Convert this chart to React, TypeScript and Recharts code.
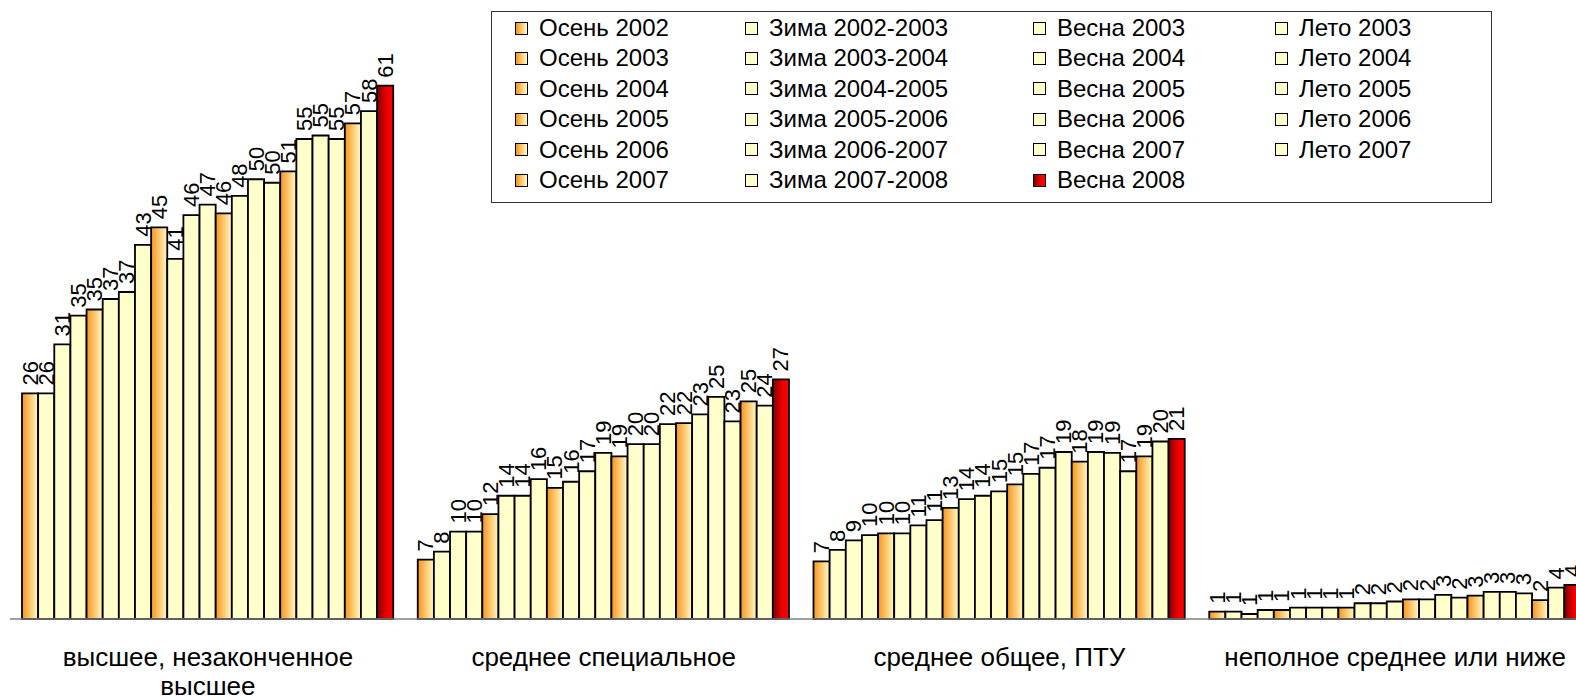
import { BarChart, Bar, XAxis, YAxis, LabelList } from "recharts";

const categories = [
  "высшее, незаконченное высшее",
  "среднее специальное",
  "среднее общее, ПТУ",
  "неполное среднее или ниже",
];

const seasons = [
  "Осень 2002", "Зима 2002-2003", "Весна 2003", "Лето 2003",
  "Осень 2003", "Зима 2003-2004", "Весна 2004", "Лето 2004",
  "Осень 2004", "Зима 2004-2005", "Весна 2005", "Лето 2005",
  "Осень 2005", "Зима 2005-2006", "Весна 2006", "Лето 2006",
  "Осень 2006", "Зима 2006-2007", "Весна 2007", "Лето 2007",
  "Осень 2007", "Зима 2007-2008", "Весна 2008",
];

// one value per season, in season order
const higherEd = [25.8, 25.8, 31.4, 34.7, 35.4, 36.6, 37.4, 42.8, 44.8, 41.2, 46.2, 47.4, 46.4, 48.4, 50.3, 49.9, 51.2, 54.9, 55.3, 54.9, 56.7, 58.1, 61.0];
const specialSecondary = [6.8, 7.7, 10.0, 10.0, 12.0, 14.1, 14.1, 16.0, 15.0, 15.7, 16.9, 19.0, 18.6, 20.0, 20.0, 22.3, 22.4, 23.4, 25.4, 22.6, 24.9, 24.4, 27.4];
const generalSecondary = [6.6, 7.9, 9.0, 9.6, 9.8, 9.8, 10.7, 11.3, 12.7, 13.7, 14.1, 14.6, 15.4, 16.6, 17.3, 19.1, 18.0, 19.1, 19.0, 16.9, 18.6, 20.3, 20.6];
const incompleteSecondary = [0.84, 0.84, 0.57, 1.03, 1.03, 1.3, 1.3, 1.3, 1.3, 1.8, 1.8, 2.0, 2.25, 2.25, 2.75, 2.44, 2.67, 3.1, 3.1, 2.94, 2.17, 3.6, 3.9];

const groups = [higherEd, specialSecondary, generalSecondary, incompleteSecondary];

const data = categories.map((name, ci) => {
  const row: Record<string, string | number> = { name };
  seasons.forEach((_, si) => {
    row[`s${si}`] = groups[ci][si];
  });
  return row;
});

const FONT = "'Liberation Sans', Arial, sans-serif";
const YELLOW = "#FFFFCC";

const kindOf = (i: number) =>
  i === seasons.length - 1 ? "red" : seasons[i].startsWith("Осень") ? "autumn" : "plain";

const svgFill = (i: number) => {
  const k = kindOf(i);
  if (k === "red") return "url(#gRed)";
  if (k === "autumn") return "url(#gAutumn)";
  return YELLOW;
};

const cssFill = (i: number) => {
  const k = kindOf(i);
  if (k === "red") return "linear-gradient(to right, #7f0000, #f00000 60%, #ff0000)";
  if (k === "autumn") return "linear-gradient(to right, #f7941d, #fffbc4)";
  return YELLOW;
};

function wrapWords(text: string, maxChars: number) {
  const lines: string[] = [];
  let cur = "";
  text.split(" ").forEach((w) => {
    const next = cur ? cur + " " + w : w;
    if (next.length > maxChars && cur) {
      lines.push(cur);
      cur = w;
    } else {
      cur = next;
    }
  });
  if (cur) lines.push(cur);
  return lines;
}

const CategoryTick = (props: any) => {
  const { x, y, payload } = props;
  const lines = wrapWords(String(payload.value), 25);
  return (
    <text x={x} y={y} textAnchor="middle" fontSize={26} fontFamily={FONT} fill="#000">
      {lines.map((l, i) => (
        <tspan key={i} x={x} dy={i === 0 ? 39 : 29}>
          {l}
        </tspan>
      ))}
    </text>
  );
};

const ValueLabel = (props: any) => {
  const vb = props.viewBox || {};
  const x = props.x ?? vb.x;
  const y = props.y ?? vb.y;
  const width = props.width ?? vb.width;
  if (x == null || y == null) return null;
  const cx = x + width / 2;
  const ty = y - 8;
  return (
    <text
      x={cx}
      y={ty}
      transform={`rotate(-90 ${cx} ${ty})`}
      textAnchor="start"
      dominantBaseline="central"
      fontSize={22}
      fontFamily={FONT}
      fill="#000"
    >
      {Math.round(Number(props.value))}
    </text>
  );
};

const colLeft = [23, 253, 541, 783];

function SeasonLegend() {
  return (
    <div
      style={{
        position: "absolute",
        left: 491,
        top: 11,
        width: 1001,
        height: 192,
        border: "1px solid #333",
        background: "#fff",
        boxSizing: "border-box",
      }}
    >
      {seasons.map((s, i) => {
        const r = Math.floor(i / 4);
        const c = i % 4;
        return (
          <div
            key={s}
            style={{
              position: "absolute",
              left: colLeft[c],
              top: 16 + r * 30.4 - 15,
              height: 30,
              display: "flex",
              alignItems: "center",
              whiteSpace: "nowrap",
            }}
          >
            <span
              style={{
                display: "inline-block",
                width: 11,
                height: 11,
                border: "1px solid #000",
                background: cssFill(i),
                marginRight: 11,
              }}
            />
            <span style={{ fontSize: 24, lineHeight: 1, color: "#000" }}>{s}</span>
          </div>
        );
      })}
    </div>
  );
}

export default function App() {
  return (
    <div
      style={{
        position: "absolute",
        left: 0,
        top: 0,
        width: 1576,
        height: 700,
        overflow: "hidden",
        background: "#fff",
        fontFamily: FONT,
      }}
    >
      <BarChart
        width={1600}
        height={700}
        data={data}
        margin={{ top: 7, right: 7, left: 10, bottom: 0 }}
        barGap={0}
        barSize={16.14}
      >
        <defs>
          <linearGradient id="gAutumn" x1="0" y1="0" x2="1" y2="0">
            <stop offset="0" stopColor="#f7941d" />
            <stop offset="1" stopColor="#fffbc4" />
          </linearGradient>
          <linearGradient id="gRed" x1="0" y1="0" x2="1" y2="0">
            <stop offset="0" stopColor="#7f0000" />
            <stop offset="0.6" stopColor="#f00000" />
            <stop offset="1" stopColor="#ff0000" />
          </linearGradient>
        </defs>
        <XAxis
          dataKey="name"
          height={81}
          interval={0}
          tickLine={false}
          axisLine={{ stroke: "#808080", strokeWidth: 1.5 }}
          tick={<CategoryTick />}
        />
        <YAxis hide domain={[0, 70]} />
        {seasons.map((s, i) => (
          <Bar
            key={s}
            dataKey={`s${i}`}
            name={s}
            fill={svgFill(i)}
            stroke="#000"
            strokeWidth={1.8}
            isAnimationActive={false}
          >
            <LabelList dataKey={`s${i}`} content={<ValueLabel />} />
          </Bar>
        ))}
      </BarChart>
      <SeasonLegend />
    </div>
  );
}
